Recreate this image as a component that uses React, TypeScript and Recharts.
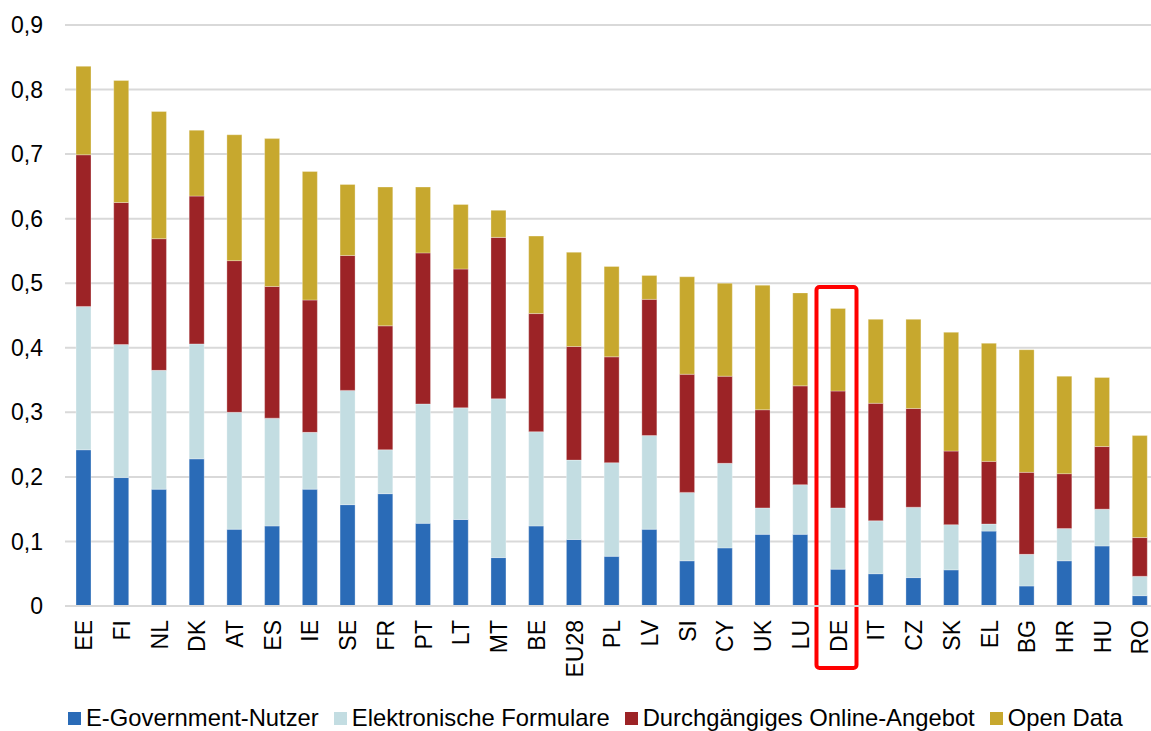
import React from 'react';
import {
  Bar,
  BarChart,
  CartesianGrid,
  Legend,
  ReferenceArea,
  XAxis,
  YAxis,
} from 'recharts';

// ----------------------
// DATA
// ----------------------
const countries = [
  'EE', 'FI', 'NL', 'DK', 'AT', 'ES', 'IE', 'SE', 'FR', 'PT', 'LT', 'MT', 'BE', 'EU28', 'PL',
  'LV', 'SI', 'CY', 'UK', 'LU', 'DE', 'IT', 'CZ', 'SK', 'EL', 'BG', 'HR', 'HU', 'RO',
];

const eGovNutzer = [
  0.242, 0.199, 0.181, 0.228, 0.119, 0.124, 0.181, 0.157, 0.174, 0.128, 0.134, 0.075, 0.124, 0.103, 0.077,
  0.119, 0.070, 0.090, 0.111, 0.111, 0.057, 0.050, 0.044, 0.056, 0.116, 0.031, 0.070, 0.093, 0.016,
];

const elektronischeFormulare = [
  0.222, 0.206, 0.184, 0.178, 0.181, 0.167, 0.088, 0.177, 0.068, 0.185, 0.173, 0.246, 0.146, 0.123, 0.145,
  0.145, 0.106, 0.131, 0.041, 0.077, 0.095, 0.082, 0.109, 0.070, 0.011, 0.049, 0.050, 0.057, 0.030,
];

const onlineAngebot = [
  0.235, 0.220, 0.204, 0.229, 0.235, 0.204, 0.205, 0.209, 0.192, 0.234, 0.215, 0.250, 0.183, 0.176, 0.164,
  0.211, 0.183, 0.135, 0.152, 0.153, 0.181, 0.182, 0.153, 0.114, 0.097, 0.127, 0.085, 0.097, 0.060,
];

const openData = [
  0.137, 0.189, 0.197, 0.102, 0.195, 0.229, 0.199, 0.110, 0.215, 0.102, 0.100, 0.042, 0.120, 0.146, 0.140,
  0.037, 0.151, 0.144, 0.193, 0.144, 0.128, 0.130, 0.138, 0.184, 0.183, 0.190, 0.151, 0.107, 0.158,
];

const yTicks = [0, 0.1, 0.2, 0.3, 0.4, 0.5, 0.6, 0.7, 0.8, 0.9];

// highlighted country box (in value units)
const highlightCountry = 'DE';
const highlightTop = 0.494;
const highlightBottom = -0.096;

const series = [
  { key: 'nutzer', name: 'E-Government-Nutzer', color: '#2a6bb7' },
  { key: 'formulare', name: 'Elektronische Formulare', color: '#c3dde2' },
  { key: 'online', name: 'Durchgängiges Online-Angebot', color: '#9c2326' },
  { key: 'open', name: 'Open Data', color: '#c7a82e' },
];

const data = countries.map((name, i) => ({
  name,
  nutzer: eGovNutzer[i],
  formulare: elektronischeFormulare[i],
  online: onlineAngebot[i],
  open: openData[i],
}));

const FONT = '"Liberation Sans", Arial, sans-serif';

const formatTick = (v: number) => (v === 0 ? '0' : v.toFixed(1).replace('.', ','));

const XTick = ({ x, y, payload }: any) => (
  <text
    transform={`translate(${x},${y + 14}) rotate(-90)`}
    textAnchor="end"
    dy="0.36em"
    fontSize={23}
    fontFamily={FONT}
    fill="#000"
  >
    {payload.value}
  </text>
);

const HighlightBox = ({ x, y, width, height }: any) => (
  <rect
    x={x - 3}
    y={y}
    width={width + 2.3}
    height={height}
    rx={3}
    fill="none"
    stroke="#ff0000"
    strokeWidth={4}
  />
);

const LegendContent = () => (
  <div
    style={{
      display: 'flex',
      alignItems: 'center',
      height: 26,
      paddingLeft: 68,
      fontFamily: FONT,
      fontSize: 23.8,
      color: '#000',
      whiteSpace: 'nowrap',
    }}
  >
    {series.map((s) => (
      <div key={s.key} style={{ display: 'flex', alignItems: 'center', marginRight: 15 }}>
        <span style={{ display: 'inline-block', width: 13, height: 13, background: s.color, marginRight: 5 }} />
        <span>{s.name}</span>
      </div>
    ))}
  </div>
);

export default function App() {
  return (
    <div style={{ position: 'absolute', left: 0, top: 0, width: 1151, height: 731, overflow: 'hidden', background: '#fff' }}>
      <BarChart width={1160} height={731} data={data} margin={{ top: 25, right: 1, bottom: 0, left: 0 }}>
        <CartesianGrid vertical={false} stroke="#d9d9d9" strokeWidth={2} />
        <XAxis
          dataKey="name"
          interval={0}
          height={99}
          tickLine={false}
          tickSize={0}
          tickMargin={0}
          axisLine={{ stroke: '#d9d9d9', strokeWidth: 2 }}
          tick={<XTick />}
        />
        <YAxis
          width={65}
          domain={[0, 0.9]}
          ticks={yTicks}
          interval={0}
          axisLine={false}
          tickLine={false}
          tickSize={0}
          tickMargin={22}
          tickFormatter={formatTick}
          tick={{ fontSize: 23, fontFamily: FONT, fill: '#000' }}
        />
        <Legend verticalAlign="bottom" height={26} content={<LegendContent />} />
        {series.map((s) => (
          <Bar
            key={s.key}
            dataKey={s.key}
            name={s.name}
            stackId="a"
            fill={s.color}
            barSize={15}
            stroke="#ffffff"
            strokeWidth={0.6}
            strokeOpacity={0.5}
            isAnimationActive={false}
          />
        ))}
        <ReferenceArea
          x1={highlightCountry}
          x2={highlightCountry}
          y1={highlightBottom}
          y2={highlightTop}
          ifOverflow="visible"
          shape={<HighlightBox />}
        />
      </BarChart>
    </div>
  );
}
